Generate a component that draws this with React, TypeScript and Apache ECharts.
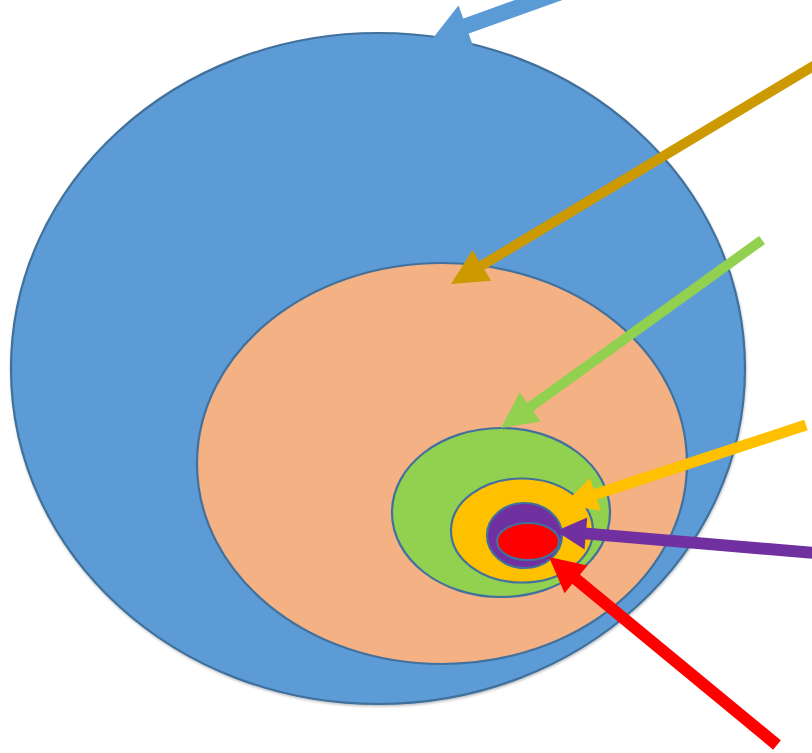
import React, { useEffect, useRef } from "react";
import * as echarts from "echarts";

// Nested ellipses (pixel-space units of the hidden axes)
const ellipseNames = ["outer", "second", "third", "fourth", "fifth", "core"];
const ellipseCenterX = [378, 442, 501, 522, 524.5, 528];
const ellipseCenterY = [368.5, 463.5, 512.5, 530.5, 535.5, 541.5];
const ellipseRadiusX = [367, 245, 109, 71, 37.5, 31];
const ellipseRadiusY = [335.5, 200.5, 84.5, 52, 32.5, 18.5];
const ellipseColors = ["#5B9BD5", "#F4B183", "#92D050", "#FFC000", "#7030A0", "#FF0000"];

// Arrows: start point and tip point
const arrowNames = ["blue", "gold", "green", "yellow", "purple", "red"];
const arrowStartX = [561, 815, 762, 806, 815, 777];
const arrowStartY = [-8, 65, 240, 425, 553, 745];
const arrowTipX = [433, 451, 501, 563, 556, 549];
const arrowTipY = [38, 284, 428, 505, 531, 557];
const arrowColors = ["#5B9BD5", "#CC9A00", "#92D050", "#FFC000", "#7030A0", "#FF0000"];
const arrowShaftWidth = [16, 10, 10, 11, 12, 12];
const arrowHeadLength = [35, 36, 36, 34, 30, 35];
const arrowHeadWidth = [44, 36, 36, 34, 32, 36];

const ellipseData = ellipseNames.map((n, i) => ({
  name: n,
  value: [ellipseCenterX[i], ellipseCenterY[i], ellipseRadiusX[i], ellipseRadiusY[i], i],
}));
const arrowData = arrowNames.map((n, i) => ({
  name: n,
  value: [arrowStartX[i], arrowStartY[i], arrowTipX[i], arrowTipY[i], i],
}));

export default function App() {
  const ref = useRef<HTMLDivElement>(null);
  useEffect(() => {
    if (!ref.current) return;
    const chart = echarts.init(ref.current, undefined, { renderer: "svg" });
    const option: any = {
      animation: false,
      backgroundColor: "#ffffff",
      grid: { left: 0, top: 0, right: 0, bottom: 0 },
      xAxis: { type: "value", min: 0, max: 812, show: false },
      yAxis: { type: "value", min: 0, max: 753, inverse: true, show: false },
      series: [
        {
          type: "custom",
          data: ellipseData,
          silent: true,
          renderItem: (params: any, api: any) => {
            const i = api.value(4);
            const c = api.coord([api.value(0), api.value(1)]);
            const s = api.size([api.value(2), api.value(3)]);
            const style: any = {
              fill: ellipseColors[i],
              stroke: "#41719C",
              lineWidth: 2.2,
            };
            if (i === 0) {
              style.shadowBlur = 2;
              style.shadowOffsetY = 1.5;
              style.shadowOffsetX = 0.5;
              style.shadowColor = "rgba(0,0,0,0.25)";
            }
            return {
              type: "ellipse",
              shape: { cx: c[0], cy: c[1], rx: s[0], ry: s[1] },
              style,
            };
          },
        },
        {
          type: "custom",
          data: arrowData,
          silent: true,
          clip: false,
          renderItem: (params: any, api: any) => {
            const i = api.value(4);
            const p1 = api.coord([api.value(0), api.value(1)]);
            const p2 = api.coord([api.value(2), api.value(3)]);
            const dx = p2[0] - p1[0];
            const dy = p2[1] - p1[1];
            const len = Math.sqrt(dx * dx + dy * dy);
            const ux = dx / len;
            const uy = dy / len;
            const hl = arrowHeadLength[i];
            const hw = arrowHeadWidth[i] / 2;
            const bx = p2[0] - ux * hl;
            const by = p2[1] - uy * hl;
            const px = -uy;
            const py = ux;
            return {
              type: "group",
              children: [
                {
                  type: "line",
                  shape: { x1: p1[0], y1: p1[1], x2: bx + ux * 2, y2: by + uy * 2 },
                  style: { stroke: arrowColors[i], lineWidth: arrowShaftWidth[i], lineCap: "butt" },
                },
                {
                  type: "polygon",
                  shape: {
                    points: [
                      [p2[0], p2[1]],
                      [bx + px * hw, by + py * hw],
                      [bx - px * hw, by - py * hw],
                    ],
                  },
                  style: { fill: arrowColors[i] },
                },
              ],
            };
          },
        },
      ],
    };
    chart.setOption(option);
    return () => chart.dispose();
  }, []);
  return (
    <div
      ref={ref}
      style={{ position: "fixed", left: 0, top: 0, width: 812, height: 753 }}
    />
  );
}
